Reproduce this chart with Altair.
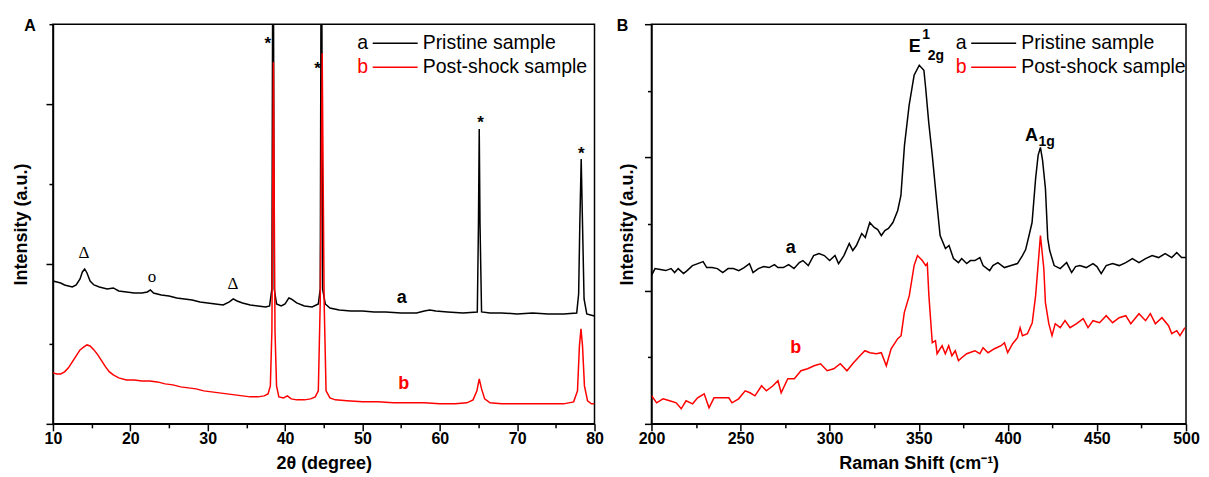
import altair as alt
import pandas as pd

FONT = "Liberation Sans"

# ---------------- Panel A : XRD (2theta, intensity a.u.) ----------------
xrd_pristine = [
    (10.0, 143), (10.5, 142), (11.0, 141), (11.5, 139), (12.0, 138), (12.5, 137), (13.0, 139),
    (13.5, 145), (13.8, 152), (14.1, 155), (14.4, 151), (14.8, 143), (15.3, 139), (16.0, 137),
    (17.0, 135), (17.8, 136), (18.5, 133), (19.5, 132), (20.5, 131), (21.5, 131), (22.2, 132),
    (22.6, 134), (23.0, 131), (24.0, 129), (25.0, 128), (26.0, 126), (27.0, 125), (28.0, 124),
    (29.0, 122), (30.0, 121), (31.0, 120), (32.0, 119), (32.8, 122), (33.3, 125), (33.8, 123),
    (34.5, 121), (35.5, 119), (36.5, 118), (37.5, 117), (38.0, 118), (38.3, 135), (38.45, 600),
    (38.6, 135), (38.9, 120), (39.5, 118), (40.0, 120), (40.5, 126), (40.8, 125), (41.5, 121),
    (42.5, 118), (43.5, 117), (44.3, 120), (44.55, 135), (44.7, 600), (44.85, 135), (45.2, 120),
    (45.8, 116), (47.0, 114), (48.5, 113), (50.0, 113), (51.5, 112), (53.0, 112), (55.0, 111),
    (57.0, 111), (58.0, 113), (58.7, 114), (59.5, 113), (61.0, 112), (63.0, 111), (64.85, 112),
    (65.0, 200), (65.1, 295), (65.2, 200), (65.4, 112), (66.5, 111), (68.0, 111), (70.0, 110),
    (72.0, 111), (74.0, 110), (76.0, 110), (77.7, 111), (77.95, 130), (78.1, 200), (78.28, 265),
    (78.45, 200), (78.65, 125), (79.0, 110), (79.5, 109), (80.0, 108),
]
xrd_postshock = [
    (10.0, 51), (10.5, 50), (11.0, 50), (11.5, 52), (12.0, 56), (12.5, 62), (13.0, 68), (13.5, 74),
    (14.0, 77), (14.4, 79), (14.8, 78), (15.3, 74), (15.8, 69), (16.3, 63), (16.8, 57), (17.3, 52),
    (17.8, 49), (18.5, 46), (19.5, 44), (20.5, 44), (21.5, 43), (22.5, 43), (23.5, 42), (24.5, 40),
    (25.5, 39), (26.5, 37), (27.5, 36), (28.5, 35), (29.5, 33), (30.5, 32), (31.5, 31), (32.5, 30),
    (33.5, 29), (34.5, 28), (35.5, 27), (36.5, 27), (37.3, 28), (37.8, 30), (38.1, 38), (38.3, 93),
    (38.5, 362), (38.7, 93), (38.9, 38), (39.2, 27), (39.8, 26), (40.3, 28), (40.8, 25), (41.5, 24),
    (42.5, 24), (43.3, 25), (43.9, 27), (44.3, 33), (44.55, 123), (44.8, 371), (45.05, 123),
    (45.3, 33), (45.8, 26), (46.5, 24), (48.0, 23), (50.0, 22), (52.0, 22), (54.0, 21), (56.0, 21),
    (58.0, 21), (60.0, 20), (62.0, 20), (63.5, 21), (64.3, 24), (64.8, 33), (65.1, 45), (65.4, 35),
    (65.8, 25), (66.5, 21), (68.0, 20), (70.0, 20), (72.0, 20), (74.0, 20), (76.0, 20), (77.3, 22),
    (77.8, 33), (78.05, 78), (78.25, 95), (78.45, 78), (78.7, 38), (79.1, 23), (79.6, 20), (80.0, 20),
]
xrd_ticks = [10, 15, 20, 25, 30, 35, 40, 45, 50, 55, 60, 65, 70, 75, 80]
xrd_yticks = [0, 80, 160, 240, 320, 400]

xrd_star_x = [37.77, 44.2, 65.28, 78.3]
xrd_star_y = [385, 360, 306, 275]
xrd_phase_text = ["Δ", "o", "Δ"]
xrd_phase_x = [14.0, 22.8, 33.25]
xrd_phase_y = [171, 147, 140]
xrd_curve_text = ["a", "b"]
xrd_curve_x = [55.07, 55.33]
xrd_curve_y = [126, 40]

# ---------------- Panel B : Raman (shift cm-1, intensity a.u.) ----------------
raman_pristine = [
    (200, 148), (202, 155), (205, 154), (208, 153), (211, 155), (213, 151), (215, 155), (218, 150),
    (220, 153), (223, 158), (226, 160), (229, 162), (231, 156), (234, 156), (237, 155), (240, 151),
    (243, 155), (246, 155), (249, 153), (252, 156), (255, 160), (257, 151), (260, 155), (263, 157),
    (266, 156), (269, 159), (271, 156), (274, 156), (277, 159), (280, 155), (283, 161), (285, 163),
    (288, 158), (291, 168), (294, 170), (297, 168), (300, 163), (303, 168), (305, 160), (308, 168),
    (311, 180), (313, 173), (315, 178), (318, 190), (320, 186), (322.5, 201), (325, 196), (327, 194),
    (329, 188), (331, 193), (333, 195), (335.5, 201), (338.2, 213), (340, 228), (341, 253),
    (342, 278), (344.6, 318), (347.4, 348), (350.3, 358), (352.9, 353), (353.9, 335), (355.6, 301),
    (357.6, 268), (360.3, 218), (362, 188), (365, 175), (367, 178), (369.5, 165), (372.3, 161),
    (374.1, 165), (376.9, 160), (379, 163), (381.5, 163), (384.3, 166), (386.1, 158), (389.8, 153),
    (391.6, 158), (394.4, 161), (398.1, 156), (401.8, 158), (405.4, 160), (408.2, 168), (410, 174),
    (411.9, 188), (413.6, 201), (415.6, 245), (417, 268), (418.3, 276), (419.5, 263), (421.1, 235),
    (422.4, 185), (423.5, 173), (426, 158), (429.4, 155), (433, 161), (435.8, 151), (438, 157),
    (440.4, 158), (444, 156), (447.8, 160), (450, 157), (452.4, 150), (455.2, 158), (458.8, 160),
    (462.5, 158), (466.2, 161), (469.9, 165), (473.6, 161), (477.3, 165), (481, 168), (484.6, 166),
    (488.3, 170), (492, 166), (494.8, 171), (497.5, 166), (500, 166),
]
raman_postshock = [
    (200.1, 28), (202.9, 21), (206.5, 25), (210.2, 23), (213.9, 21), (216.7, 15), (219.4, 23),
    (223.1, 20), (225.9, 26), (229.6, 30), (232.3, 16), (235.1, 26), (239.7, 26), (243.4, 26),
    (245.2, 21), (248.9, 25), (252.6, 33), (255.3, 31), (258.1, 28), (261.8, 38), (264.5, 33),
    (268.2, 38), (271, 43), (272.8, 31), (276.5, 45), (280.2, 45), (283.9, 53), (287.6, 55),
    (291.3, 58), (294.9, 60), (298.6, 53), (302.3, 55), (306, 60), (309.7, 53), (313.4, 61),
    (317, 68), (319.8, 73), (322.6, 71), (326.2, 70), (329, 71), (331.8, 58), (334.5, 75),
    (338.2, 85), (340.1, 88), (341.9, 111), (344.7, 128), (347.4, 158), (349.3, 168), (352, 163),
    (353.9, 158), (354.8, 160), (355.7, 128), (357.6, 81), (359.4, 83), (360.3, 70), (363.1, 78),
    (364.9, 70), (366.8, 78), (368.6, 68), (370.5, 73), (372.3, 63), (374.1, 66), (376.9, 70),
    (381.5, 73), (384.3, 70), (386.1, 76), (388.9, 71), (392.5, 75), (396.2, 78), (398.1, 81),
    (399.9, 71), (402.7, 80), (405.4, 86), (406.9, 96), (408.2, 88), (411, 90), (413.7, 101),
    (415.6, 128), (417.4, 168), (418.3, 188), (420.2, 155), (421.1, 121), (423, 100), (424.8, 88),
    (426.6, 100), (429.4, 96), (432.1, 103), (434.9, 96), (438.6, 100), (442.3, 105), (445, 96),
    (447.8, 103), (451.5, 101), (455.2, 108), (458.8, 101), (462.5, 106), (466.2, 108), (469, 100),
    (473.6, 110), (477.3, 103), (480, 110), (482.8, 100), (486.5, 106), (490.2, 98), (492, 90),
    (494.8, 93), (496.6, 88), (499.4, 96),
]
raman_ticks = [200, 225, 250, 275, 300, 325, 350, 375, 400, 425, 450, 475, 500]
raman_yticks = [0, 66.5, 133, 199.5, 266, 332.5, 399]

raman_big_text = ["E", "A"]
raman_big_x = [347.8, 413.3]
raman_big_y = [376, 287]
raman_small_text = ["1", "2g", "1g"]
raman_small_x = [354.1, 359.6, 421.8]
raman_small_y = [388, 367, 281]
raman_curve_text = ["a", "b"]
raman_curve_x = [278.2, 281.0]
raman_curve_y = [176, 76]

legend_keys = ["a", "b"]
legend_names = ["Pristine sample", "Post-shock sample"]
series_colors = ["#000000", "#ff0000"]

H = 400


def panel(curves, ticks, yticks, xdom, ydom, major_x, major_y, xtitle, letter,
          annots, width, y_title_pad, letter_x):
    xs = alt.Scale(domain=xdom, nice=False, zero=False)
    ys = alt.Scale(domain=ydom, nice=False, zero=False)
    xaxis = alt.Axis(
        values=ticks, title=xtitle, grid=False,
        labelExpr=f"datum.value % {major_x} === 0 ? datum.label : ''",
        tickSize={"condition": {"test": f"datum.value % {major_x} === 0", "value": 7}, "value": 4},
        titlePadding=8, labelPadding=0, labelFlush=False, labelOverlap=False,
    )
    yaxis = alt.Axis(
        values=yticks, title="Intensity (a.u.)", grid=False, labels=False,
        tickSize={"condition": {"test": f"abs(datum.value % {major_y}) < 0.01", "value": 7}, "value": 4},
        titlePadding=y_title_pad,
    )
    X = alt.X("x:Q", scale=xs, axis=xaxis)
    Y = alt.Y("y:Q", scale=ys, axis=yaxis)
    layers = []
    for pts, col in zip(curves, series_colors):
        df = pd.DataFrame(pts, columns=["x", "y"])
        layers.append(
            alt.Chart(df).mark_line(color=col, strokeWidth=1.5, clip=True, interpolate="linear")
            .encode(x=X, y=Y, order="x:Q")
        )
    for (txt, tx, ty), style in annots:
        df = pd.DataFrame({"x": tx, "y": ty, "t": txt})
        layers.append(alt.Chart(df).mark_text(**style).encode(x=X, y=Y, text="t:N"))
    # legend (a —— Pristine sample / b —— Post-shock sample)
    for i, (key, name, col) in enumerate(zip(legend_keys, legend_names, series_colors)):
        yy = 19 + 24 * i
        ldf = pd.DataFrame({"k": [key], "n": [name]})
        layers.append(alt.Chart(ldf).mark_text(font=FONT, fontSize=19.5, color=col, align="center",
                                               baseline="middle")
                      .encode(x=alt.value(310), y=alt.value(yy), text="k:N"))
        layers.append(alt.Chart(ldf).mark_rule(color=col, strokeWidth=1.5)
                      .encode(x=alt.value(320), x2=alt.value(365), y=alt.value(yy)))
        layers.append(alt.Chart(ldf).mark_text(font=FONT, fontSize=19.5, color="black", align="left",
                                               baseline="middle")
                      .encode(x=alt.value(370), y=alt.value(yy), text="n:N"))
    ldf = pd.DataFrame({"t": [letter]})
    layers.append(alt.Chart(ldf).mark_text(font=FONT, fontSize=16, fontWeight="bold", color="black",
                                           align="center", baseline="middle")
                  .encode(x=alt.value(letter_x), y=alt.value(2), text="t:N"))
    return alt.layer(*layers).properties(width=width, height=H)


star_style = dict(font=FONT, fontSize=17, fontWeight="bold", color="black", align="center",
                  baseline="middle", dy=5)
phase_style = dict(font="Liberation Serif", fontSize=17, color="black", align="center",
                   baseline="middle")
a_style = dict(font=FONT, fontSize=18, fontWeight="bold", color="black", align="center",
               baseline="middle")

left = panel(
    [xrd_pristine, xrd_postshock], xrd_ticks, xrd_yticks, [10, 80], [0, 400], 10, 160,
    "2θ (degree)", "A",
    [
        ((["*"] * 4, xrd_star_x, xrd_star_y), star_style),
        ((xrd_phase_text, xrd_phase_x, xrd_phase_y), phase_style),
        ((xrd_curve_text[:1], xrd_curve_x[:1], xrd_curve_y[:1]), a_style),
        ((xrd_curve_text[1:], xrd_curve_x[1:], xrd_curve_y[1:]), dict(a_style, color="#ff0000")),
    ],
    542, 15, -23,
)

right = panel(
    [raman_pristine, raman_postshock], raman_ticks, raman_yticks, [200, 500], [0, 399], 50, 133,
    "Raman Shift (cm⁻¹)", "B",
    [
        ((raman_big_text, raman_big_x, raman_big_y), dict(a_style, fontSize=18)),
        ((raman_small_text, raman_small_x, raman_small_y), dict(a_style, fontSize=14)),
        ((raman_curve_text[:1], raman_curve_x[:1], raman_curve_y[:1]), a_style),
        ((raman_curve_text[1:], raman_curve_x[1:], raman_curve_y[1:]), dict(a_style, color="#ff0000")),
    ],
    535, 7, -29,
)

chart = (
    alt.hconcat(left, right, spacing=11)
    .properties(padding={"left": 3, "top": 9, "right": 0, "bottom": 0})
    .configure_view(stroke="black", strokeWidth=1.5)
    .configure_axis(
        domainColor="black", domainWidth=1.5, tickColor="black", tickWidth=1.5,
        labelFont=FONT, labelFontSize=16, labelFontWeight="bold", labelColor="black",
        titleFont=FONT, titleFontSize=18, titleFontWeight="bold", titleColor="black",
    )
)

chart.save("out.html", embed_options={"renderer": "svg", "actions": False})
